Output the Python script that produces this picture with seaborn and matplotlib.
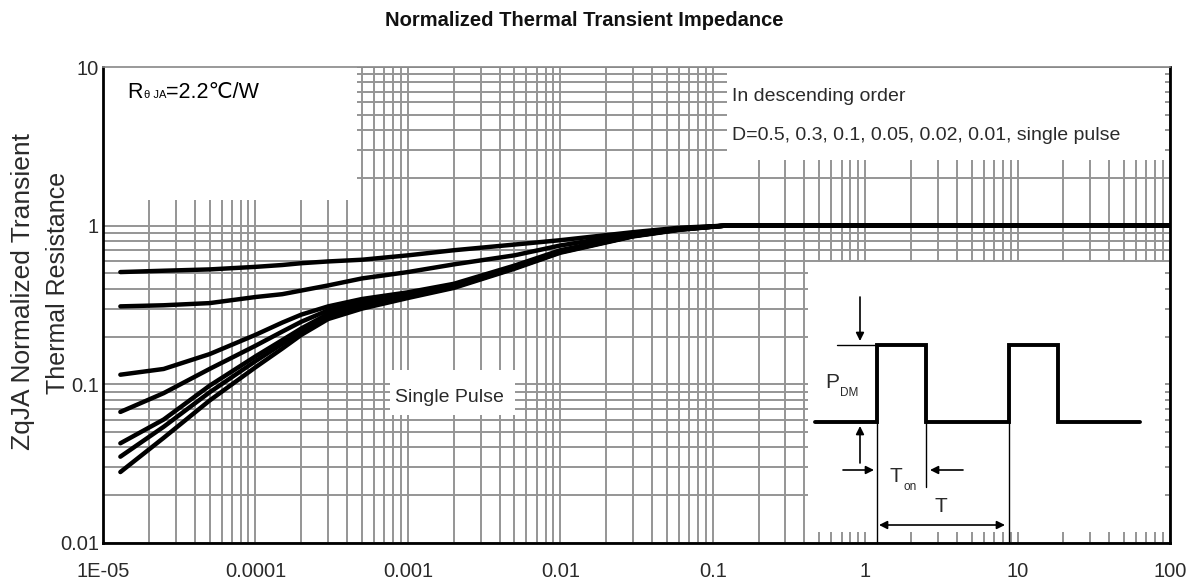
import numpy as np
import pandas as pd
import matplotlib
matplotlib.use("Agg")
import matplotlib.pyplot as plt
from matplotlib.patches import Rectangle
from matplotlib.ticker import LogLocator, NullFormatter
import seaborn as sns

# square pulse duration (s) and normalized Zth
pulse_width = [1.3e-5, 2.5e-5, 5e-5, 1e-4, 1.5e-4, 2e-4, 3e-4, 5e-4, 1e-3, 2e-3, 5e-3,
               1e-2, 3e-2, 6e-2, 1.2e-1, 100]
duty_labels = ["0.5", "0.3", "0.1", "0.05", "0.02", "0.01", "single pulse"]
z_d050 = [0.51, 0.52, 0.53, 0.55, 0.565, 0.58, 0.595, 0.61, 0.65, 0.70, 0.76,
          0.81, 0.91, 0.97, 1.0, 1.0]
z_d030 = [0.31, 0.315, 0.325, 0.355, 0.37, 0.39, 0.42, 0.465, 0.51, 0.57, 0.65,
          0.75, 0.89, 0.96, 1.0, 1.0]
z_d010 = [0.115, 0.125, 0.155, 0.205, 0.245, 0.275, 0.31, 0.345, 0.38, 0.43, 0.56,
          0.70, 0.87, 0.95, 1.0, 1.0]
z_d005 = [0.067, 0.088, 0.125, 0.175, 0.215, 0.248, 0.293, 0.328, 0.37, 0.42, 0.55,
          0.69, 0.865, 0.95, 1.0, 1.0]
z_d002 = [0.0425, 0.06, 0.098, 0.15, 0.19, 0.225, 0.278, 0.315, 0.36, 0.415, 0.545,
          0.685, 0.86, 0.945, 1.0, 1.0]
z_d001 = [0.035, 0.054, 0.089, 0.14, 0.18, 0.215, 0.268, 0.308, 0.355, 0.41, 0.54,
          0.68, 0.86, 0.945, 1.0, 1.0]
z_single = [0.028, 0.046, 0.079, 0.128, 0.168, 0.205, 0.258, 0.30, 0.35, 0.405, 0.535,
            0.675, 0.855, 0.94, 1.0, 1.0]

x_ticks = [1e-5, 1e-4, 1e-3, 1e-2, 1e-1, 1, 10, 100]
x_tick_labels = ["1E-05", "0.0001", "0.001", "0.01", "0.1", "1", "10", "100"]
y_ticks = [0.01, 0.1, 1, 10]
y_tick_labels = ["0.01", "0.1", "1", "10"]

series = [z_d050, z_d030, z_d010, z_d005, z_d002, z_d001, z_single]
df = pd.concat(
    [pd.DataFrame({"t": pulse_width, "z": z, "D": d}) for d, z in zip(duty_labels, series)],
    ignore_index=True)

sns.set_theme(style="white")
FONT = ["Liberation Sans", "DejaVu Sans"]
plt.rcParams["font.family"] = FONT
TXT = "#2a2a2a"

W, H = 1189, 587
fig = plt.figure(figsize=(W / 100, H / 100), dpi=100)


def fx(px):
    return px / W


def fy(py):
    return 1 - py / H


ax = fig.add_axes([fx(103), fy(543), fx(1170) - fx(103), fy(67) - fy(543)])
ax.set_xscale("log")
ax.set_yscale("log")
ax.set_xlim(1e-5, 100)
ax.set_ylim(0.01, 10)
ax.xaxis.set_minor_locator(LogLocator(base=10, subs=np.arange(2, 10), numticks=100))
ax.yaxis.set_minor_locator(LogLocator(base=10, subs=np.arange(2, 10), numticks=100))
ax.xaxis.set_minor_formatter(NullFormatter())
ax.yaxis.set_minor_formatter(NullFormatter())
ax.set_axisbelow(True)
ax.grid(True, which="both", color="#959595", lw=1.4)

sns.lineplot(data=df, x="t", y="z", hue="D", palette=["black"] * 7, lw=3.2,
             estimator=None, sort=False, legend=False, ax=ax, zorder=4,
             solid_capstyle="round", solid_joinstyle="round")

ax.set_xticks(x_ticks, x_tick_labels)
ax.set_yticks(y_ticks, y_tick_labels)
ax.tick_params(axis="both", which="both", length=0, labelcolor=TXT, labelsize=14.5)
ax.tick_params(axis="x", pad=14)
ax.tick_params(axis="y", pad=3)
ax.set_xlabel("")
ax.set_ylabel("")
for side in ["left", "bottom", "right"]:
    ax.spines[side].set_color("black")
    ax.spines[side].set_linewidth(2)
ax.spines["top"].set_color("#888888")
ax.spines["top"].set_linewidth(1.2)

# white label panels that hide the grid
for x0, y0, x1, y1 in [(103, 67, 357, 200), (727, 68, 1165, 160), (390, 370, 515, 415)]:
    ax.add_patch(Rectangle((fx(x0), fy(y1)), fx(x1) - fx(x0), fy(y0) - fy(y1),
                           transform=fig.transFigure, facecolor="white",
                           edgecolor="none", zorder=2))

# R theta JA note
fig.text(fx(127), fy(98), "R", fontsize=15.5, va="baseline", color="black")
fig.text(fx(144), fy(98), "\u03b8 JA", fontsize=8, va="baseline", color="black")
fig.text(fx(166), fy(98), "=2.2\u2103/W", fontsize=15.5, va="baseline", color="black")

fig.text(fx(732), fy(101), "In descending order", fontsize=14, va="baseline", color=TXT)
fig.text(fx(732), fy(140), "D=0.5, 0.3, 0.1, 0.05, 0.02, 0.01, single pulse", fontsize=14,
         va="baseline", color=TXT)
fig.text(fx(395), fy(402), "Single Pulse", fontsize=14, va="baseline", color=TXT)

fig.text(fx(584), fy(20), "Normalized Thermal Transient Impedance", fontsize=14.5,
         fontweight="bold", ha="center", va="center", color="#111111")
fig.text(fx(23), fy(292), "ZqJA Normalized Transient", rotation=90, fontsize=19,
         ha="center", va="center", color=TXT)
fig.text(fx(58), fy(283), "Thermal Resistance", rotation=90, fontsize=18,
         ha="center", va="center", color=TXT)

# duty-cycle sketch in the lower right
iax = fig.add_axes([fx(808), fy(532), fx(1165) - fx(808), fy(262) - fy(532)])
iax.set_xlim(808, 1165)
iax.set_ylim(532, 262)
iax.set_facecolor("white")
iax.set_xticks([])
iax.set_yticks([])
for s in iax.spines.values():
    s.set_visible(False)

lo, hi = 422, 345
iax.plot([815, 877, 877, 926, 926, 1009, 1009, 1058, 1058, 1140],
         [lo, lo, hi, hi, lo, lo, hi, hi, lo, lo], color="black", lw=2.8,
         solid_joinstyle="miter")
iax.plot([837, 877], [hi, hi], color="black", lw=1.0)
iax.plot([877, 877], [lo, 543], color="black", lw=1.0, clip_on=False)
iax.plot([926, 926], [lo, 487], color="black", lw=1.0)
iax.plot([1009, 1009], [lo, 543], color="black", lw=1.0, clip_on=False)

arrow = dict(arrowstyle="-|>", lw=1.2, color="black", mutation_scale=12, shrinkA=0, shrinkB=0)
iax.annotate("", xy=(860, 341), xytext=(860, 297), arrowprops=arrow)
iax.annotate("", xy=(860, 426), xytext=(860, 463), arrowprops=arrow)
iax.annotate("", xy=(874, 470), xytext=(843, 470), arrowprops=arrow)
iax.annotate("", xy=(930, 470), xytext=(963, 470), arrowprops=arrow)
iax.annotate("", xy=(1005, 525), xytext=(879, 525),
             arrowprops=dict(arrowstyle="<|-|>", lw=1.2, color="black", mutation_scale=12,
                             shrinkA=0, shrinkB=0))

iax.text(825, 383, "P", fontsize=15, va="center", color=TXT)
iax.text(840, 393, "DM", fontsize=8.5, va="center", color=TXT)
iax.text(889, 476, "T", fontsize=15, va="center", color=TXT)
iax.text(903, 487, "on", fontsize=8.5, va="center", color=TXT)
iax.text(941, 507, "T", fontsize=15, ha="center", va="center", color=TXT)

fig.savefig("out.png", dpi=100)
